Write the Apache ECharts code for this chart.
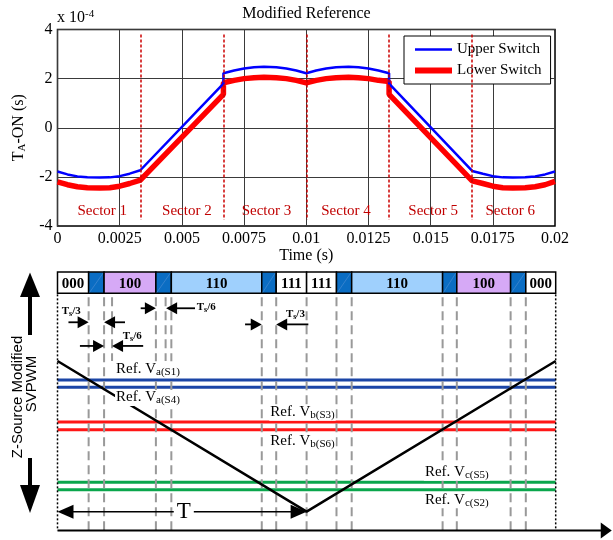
<!DOCTYPE html>
<html><head><meta charset="utf-8">
<script src="https://cdn.jsdelivr.net/npm/echarts@6/dist/echarts.min.js"></script>
<style>html,body{margin:0;padding:0;background:#fff}#c{width:613px;height:540px}</style>
</head><body><div id="c"></div>
<script>
// ---------------- Top chart data (T_A-ON in units of 1e-4 s) ----------------
const xTickLabels = ['0','0.0025','0.005','0.0075','0.01','0.0125','0.015','0.0175','0.02'];
const yTickLabels = ['-4','-2','0','2','4'];
const upperT = [0,0.0004,0.0008,0.0012,0.0017,0.0021,0.0025,0.0029,0.00333,
  0.00667,0.00667,0.0071,0.0075,0.0079,0.0083,0.0088,0.0092,0.0096,0.01,
  0.0104,0.0108,0.0112,0.0117,0.0121,0.0125,0.0129,0.01333,0.01333,
  0.01667,0.0171,0.0175,0.0179,0.0183,0.0188,0.0192,0.0196,0.02];
const upperV = [-1.78,-1.90,-1.98,-2.02,-2.03,-2.02,-1.97,-1.87,-1.73,
  1.80,2.22,2.33,2.41,2.46,2.48,2.46,2.41,2.33,2.22,
  2.33,2.41,2.46,2.48,2.46,2.41,2.33,2.22,1.80,
  -1.76,-1.87,-1.97,-2.02,-2.03,-2.02,-1.98,-1.90,-1.78];
const lowerT = upperT.slice();
const lowerV = [-2.20,-2.32,-2.40,-2.44,-2.45,-2.44,-2.38,-2.27,-2.13,
  1.36,1.83,1.93,2.00,2.04,2.06,2.04,2.00,1.93,1.83,
  1.93,2.00,2.04,2.06,2.04,2.00,1.93,1.88,1.36,
  -2.16,-2.27,-2.38,-2.44,-2.45,-2.44,-2.40,-2.32,-2.18];
const sectorBounds = [0.003333,0.006667,0.01,0.013333,0.016667];
const sectorLabels = ['Sector 1','Sector 2','Sector 3','Sector 4','Sector 5','Sector 6'];
const sectorLabelX = [0.0018,0.0052,0.0084,0.0116,0.0151,0.0182];

// ---------------- Bottom diagram data (time in units of T, carrier 0..1) ----------------
const stateBounds = [0,0.125,0.187,0.395,0.457,0.82,0.878,1,1.12,1.181,1.546,1.603,1.819,1.88,2];
const stateLabels = ['000','ST','100','ST','110','ST','111','111','ST','110','ST','100','ST','000'];
const shortDashX = [0.219,0.434];
const carrierX = [0,1,2];
const carrierY = [1,0,1];
const refLevels = [0.874,0.826,0.595,0.544,0.195,0.146];
const refSubs = ['a(S1)','a(S4)','b(S3)','b(S6)','c(S5)','c(S2)'];
const refLabelX = [0.231,0.231,0.85,0.85,1.471,1.471];
const refLabelY = [0.958,0.768,0.670,0.476,0.272,0.089];
const arrowFromX = [0.044,0.271,0.09,0.344,0.334,0.552,0.753,1.007];
const arrowToX   = [0.125,0.187,0.187,0.219,0.395,0.436,0.82,0.878];
const arrowY     = [1.257,1.257,1.10,1.10,1.35,1.35,1.243,1.243];
const annDen = ['3','6','6','3'];
const annX = [0.017,0.262,0.559,0.917];
const annY = [1.327,1.161,1.353,1.305];
const periodStart = 0, periodEnd = 1;

// ---------------- styles ----------------
const SERIF = '"Liberation Serif","Times New Roman",serif';
const SANS = '"Liberation Sans",Arial,sans-serif';
const BAR_TOP = 1.59, BAR_BOT = 1.449, AXIS_Y = -0.125, SHORT_END = 1.0;
const stateColor = {'000':'#ffffff','111':'#ffffff','100':'#d6a9f6','110':'#9fd0fd','ST':'#0b6dc3'};
const refColors = ['#1b45a6','#1b45a6','#ff1616','#ff1616','#0aa64c','#0aa64c'];

function arrowEls(p1, p2, headLen, headHalf, lw, color) {
  const dx = p2[0]-p1[0], dy = p2[1]-p1[1];
  const L = Math.hypot(dx, dy) || 1; const ux = dx/L, uy = dy/L;
  const bx = p2[0]-ux*headLen, by = p2[1]-uy*headLen;
  return [
    {type:'line', shape:{x1:p1[0],y1:p1[1],x2:bx+ux*1,y2:by+uy*1}, style:{stroke:color,lineWidth:lw}},
    {type:'polygon', shape:{points:[[p2[0],p2[1]],[bx-uy*headHalf,by+ux*headHalf],[bx+uy*headHalf,by-ux*headHalf]]}, style:{fill:color}}
  ];
}

const zip = (a,b) => a.map((v,i)=>[v,b[i]]);

const chart = echarts.init(document.getElementById('c'));
const option = {
  animation:false,
  backgroundColor:'#fff',
  title:{text:'Modified Reference', left:'center', top:6, padding:0,
    textStyle:{fontFamily:SERIF,fontSize:16,fontWeight:'normal',color:'#000'}},
  legend:{left:404, top:36, orient:'vertical', itemWidth:37, itemHeight:14, itemGap:6,
    padding:[6,9,6,8], borderColor:'#000', borderWidth:1, backgroundColor:'#fff',
    textStyle:{fontFamily:SERIF,fontSize:15,color:'#000'},
    data:[{name:'Upper Switch', itemStyle:{opacity:0}, lineStyle:{width:2.5}},
          {name:'Lower Switch', itemStyle:{opacity:0}, lineStyle:{width:6}}]},
  grid:[
    {left:57.5, top:29.5, width:497.5, height:196.5, show:true, borderColor:'#000', borderWidth:1.5},
    {left:57.5, top:270.6, width:498.2, height:259.9}
  ],
  xAxis:[
    {type:'value', gridIndex:0, min:0, max:0.02, interval:0.0025,
     axisLine:{show:false}, axisTick:{show:false},
     splitLine:{show:true,lineStyle:{color:'#3a3a3a',width:1}},
     axisLabel:{margin:5, fontFamily:SERIF, fontSize:16, color:'#000',
       formatter:v=>xTickLabels[Math.round(v/0.0025)]},
     name:'Time (s)', nameLocation:'middle', nameGap:19,
     nameTextStyle:{fontFamily:SERIF,fontSize:16,color:'#000'}},
    {type:'value', gridIndex:1, min:0, max:2, show:false}
  ],
  yAxis:[
    {type:'value', gridIndex:0, min:-4, max:4, interval:2,
     axisLine:{show:false}, axisTick:{show:false},
     splitLine:{show:true,lineStyle:{color:'#3a3a3a',width:1}},
     axisLabel:{margin:5, fontFamily:SERIF, fontSize:16, color:'#000',
       formatter:v=>yTickLabels[Math.round((v+4)/2)]},
     name:'{a|T}{b|A}{a|-ON (s)}', nameLocation:'middle', nameGap:30, nameRotate:90,
     nameTextStyle:{fontFamily:SERIF,fontSize:16,color:'#000',
       rich:{a:{fontFamily:SERIF,fontSize:16,color:'#000',verticalAlign:'top',lineHeight:17},
             b:{fontFamily:SERIF,fontSize:11,color:'#000',verticalAlign:'bottom',lineHeight:12,padding:[7,0,0,0]}}}},
    {type:'value', gridIndex:1, min:-0.125, max:1.6, show:false}
  ],
  series:[
    {name:'Lower Switch', type:'line', xAxisIndex:0, yAxisIndex:0, data:zip(lowerT,lowerV),
     symbol:'none', color:'#ff0000', lineStyle:{width:5.5,color:'#ff0000'}, z:3,
     markLine:{silent:true, symbol:['none','none'], label:{show:false},
       lineStyle:{type:[3,2],color:'#cc0000',width:1.5},
       data:sectorBounds.map(x=>[{coord:[x,3.8]},{coord:[x,-3.75]}])}},
    {name:'Upper Switch', type:'line', xAxisIndex:0, yAxisIndex:0, data:zip(upperT,upperV),
     symbol:'none', color:'#0000ff', lineStyle:{width:2.5,color:'#0000ff'}, z:4},
    {type:'custom', xAxisIndex:0, yAxisIndex:0, data:sectorLabelX.map((x,i)=>[x,-3.38,i]), z:5,
     renderItem:(p,api)=>{const c=api.coord([api.value(0),api.value(1)]);
       return {type:'text', style:{text:sectorLabels[api.value(2)], x:c[0], y:c[1], align:'center', verticalAlign:'middle',
         fontFamily:SERIF, fontSize:15, fill:'#c00000'}};}},
    // bottom: reference lines
    {type:'custom', xAxisIndex:1, yAxisIndex:1, data:refLevels.map((v,i)=>[0,v,i]), z:2,
     renderItem:(p,api)=>{const a=api.coord([0,api.value(1)]), b=api.coord([2,api.value(1)]);
       return {type:'line', shape:{x1:a[0],y1:a[1],x2:b[0],y2:b[1]}, style:{stroke:refColors[api.value(2)],lineWidth:3}};}},
    // dashed boundaries
    {type:'custom', xAxisIndex:1, yAxisIndex:1, data:stateBounds.slice(1,-1).map(x=>[x,0]), z:3,
     renderItem:(p,api)=>{const a=api.coord([api.value(0),BAR_BOT]), b=api.coord([api.value(0),AXIS_Y]);
       return {type:'line', shape:{x1:a[0],y1:a[1]+4,x2:b[0],y2:b[1]}, style:{stroke:'#999999',lineWidth:2,lineDash:[9,5]}};}},
    {type:'custom', xAxisIndex:1, yAxisIndex:1, data:shortDashX.map(x=>[x,0]), z:3,
     renderItem:(p,api)=>{const a=api.coord([api.value(0),BAR_BOT]), b=api.coord([api.value(0),SHORT_END]);
       return {type:'line', shape:{x1:a[0],y1:a[1]+4,x2:b[0],y2:b[1]}, style:{stroke:'#999999',lineWidth:2,lineDash:[9,5]}};}},
    // dotted frame
    {type:'custom', xAxisIndex:1, yAxisIndex:1, data:[[periodStart,0],[2*periodEnd,0]], z:3,
     renderItem:(p,api)=>{const a=api.coord([api.value(0),BAR_BOT]), b=api.coord([api.value(0),AXIS_Y]);
       return {type:'line', shape:{x1:a[0],y1:a[1]+1,x2:b[0],y2:b[1]}, style:{stroke:'#000',lineWidth:1.5,lineDash:[2,2]}};}},
    // switching state bar
    {type:'custom', xAxisIndex:1, yAxisIndex:1, data:stateLabels.map((s,i)=>[stateBounds[i],stateBounds[i+1],i]), z:4,
     renderItem:(p,api)=>{
       const i=api.value(2), lab=stateLabels[i];
       const p0=api.coord([api.value(0),BAR_TOP]), p1=api.coord([api.value(1),BAR_BOT]);
       const ch=[{type:'rect', shape:{x:p0[0],y:p0[1],width:p1[0]-p0[0],height:p1[1]-p0[1]},
                  style:{fill:stateColor[lab],stroke:'#000',lineWidth:1.5}}];
       if(lab==='ST') ch.push({type:'line', shape:{x1:p0[0]+1,y1:p1[1]-1,x2:p1[0]-1,y2:p0[1]+1}, style:{stroke:'#3f86cf',lineWidth:0.8}});
       else ch.push({type:'text', style:{text:lab, x:(p0[0]+p1[0])/2, y:(p0[1]+p1[1])/2+1, align:'center', verticalAlign:'middle',
                     fontFamily:SERIF, fontSize:15, fontWeight:'bold', fill:'#000'}});
       return {type:'group', children:ch};}},
    // carrier
    {type:'line', xAxisIndex:1, yAxisIndex:1, data:zip(carrierX,carrierY), symbol:'none',
     lineStyle:{color:'#000',width:2.5}, z:5},
    // annotation arrows
    {type:'custom', xAxisIndex:1, yAxisIndex:1, data:arrowFromX.map((x,i)=>[x,arrowY[i],arrowToX[i]]), z:6,
     renderItem:(p,api)=>{const a=api.coord([api.value(0),api.value(1)]), b=api.coord([api.value(2),api.value(1)]);
       return {type:'group', children:arrowEls(a,b,11,6,1.8,'#000')};}},
    // T period arrow + bottom axis arrow
    {type:'custom', xAxisIndex:1, yAxisIndex:1, data:[[periodStart,periodEnd]], z:6,
     renderItem:(p,api)=>{
       const s=api.value(0), e=api.value(1);
       const a=api.coord([s,0]), b=api.coord([e,0]), m=api.coord([(s+e)/2,0]);
       const ax0=api.coord([0,AXIS_Y]), ax1=api.coord([2.225,AXIS_Y]);
       const ch=[].concat(arrowEls(m,a,16,7,1.5,'#000'), arrowEls(m,b,16,7,1.5,'#000'), arrowEls(ax0,ax1,11,8,2,'#000'));
       const t=api.coord([(s+e)/2+0.007,0]);
       ch.push({type:'text', style:{text:'T', x:t[0], y:t[1], align:'center', verticalAlign:'middle',
         fontFamily:SERIF, fontSize:23, fill:'#000', backgroundColor:'#fff', padding:[0,3]}});
       return {type:'group', children:ch};}},
    // reference labels
    {type:'custom', xAxisIndex:1, yAxisIndex:1, data:refLabelX.map((x,i)=>[x,refLabelY[i],i]), z:7,
     renderItem:(p,api)=>{const c=api.coord([api.value(0),api.value(1)]);
       return {type:'text', style:{text:'{m|Ref. V}{s|'+refSubs[api.value(2)]+'}', x:c[0], y:c[1]+2, align:'left', verticalAlign:'middle',
         backgroundColor:'#fff', padding:[0,1,0,1],
         rich:{m:{fontFamily:SERIF,fontSize:15,fill:'#000',verticalAlign:'top',lineHeight:16},
               s:{fontFamily:SERIF,fontSize:11,fill:'#000',verticalAlign:'bottom',lineHeight:12,padding:[7,0,0,0]}}}};}},
    // Ts annotations
    {type:'custom', xAxisIndex:1, yAxisIndex:1, data:annX.map((x,i)=>[x,annY[i],i]), z:7,
     renderItem:(p,api)=>{const c=api.coord([api.value(0),api.value(1)]);
       return {type:'text', style:{text:'{m|T}{s|s}{m|/'+annDen[api.value(2)]+'}', x:c[0], y:c[1], align:'left', verticalAlign:'middle',
         rich:{m:{fontFamily:SERIF,fontSize:11,fontWeight:'bold',fill:'#000',verticalAlign:'top',lineHeight:12},
               s:{fontFamily:SERIF,fontSize:8,fontWeight:'bold',fill:'#000',verticalAlign:'bottom',lineHeight:8,padding:[6,0,0,0]}}}};}}
  ],
  graphic:[
    {type:'text', x:57, y:9, style:{text:'{a|x 10}{b|-4}',
      rich:{a:{fontFamily:SERIF,fontSize:16,fill:'#000',verticalAlign:'bottom',lineHeight:17,padding:[5,0,0,0]},
            b:{fontFamily:SERIF,fontSize:11,fill:'#000',verticalAlign:'top',lineHeight:11}}}},
    {type:'polygon', shape:{points:[[30,272.5],[20,297],[40,297]]}, style:{fill:'#000'}},
    {type:'rect', shape:{x:28,y:296,width:4,height:39}, style:{fill:'#000'}},
    {type:'rect', shape:{x:28,y:458,width:4,height:28}, style:{fill:'#000'}},
    {type:'polygon', shape:{points:[[30,513],[20,485],[40,485]]}, style:{fill:'#000'}},
    {type:'text', x:17.5, y:397, rotation:Math.PI/2, style:{text:'Z-Source Modified', align:'center', verticalAlign:'middle',
      fontFamily:SANS, fontSize:15, fill:'#000'}},
    {type:'text', x:32, y:384, rotation:Math.PI/2, style:{text:'SVPWM', align:'center', verticalAlign:'middle',
      fontFamily:SANS, fontSize:15, fill:'#000'}}
  ]
};
chart.setOption(option);
</script></body></html>
